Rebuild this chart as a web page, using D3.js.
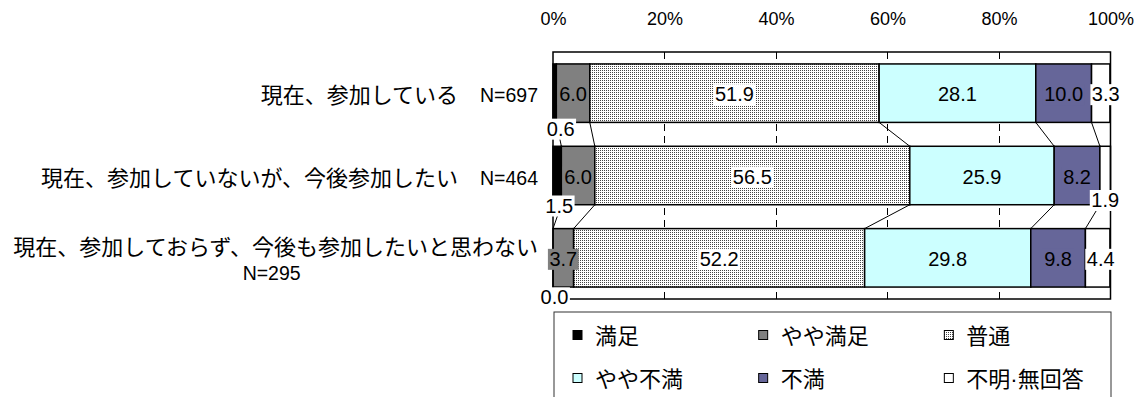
<!DOCTYPE html>
<html><head><meta charset="utf-8">
<script src="https://cdn.jsdelivr.net/npm/d3@7"></script>
<style>
html,body{margin:0;padding:0;background:#fff;}
svg{display:block;}
text{font-family:"Liberation Sans","Noto Sans CJK JP",sans-serif;fill:#000;}
</style></head>
<body>
<script>
// ---- data ----
const categories = [
  ["現在、参加している　N=697"],
  ["現在、参加していないが、今後参加したい　N=464"],
  ["現在、参加しておらず、今後も参加したいと思わない", "N=295"]
];
const seriesNames = ["満足", "やや満足", "普通", "やや不満", "不満", "不明·無回答"];
const satisfied            = [0.6, 1.5, 0.0];
const somewhatSatisfied    = [6.0, 6.0, 3.7];
const neutral              = [51.9, 56.5, 52.2];
const somewhatDissatisfied = [28.1, 25.9, 29.8];
const dissatisfied         = [10.0, 8.2, 9.8];
const unknown              = [3.3, 1.9, 4.4];
const tickValues = [0, 20, 40, 60, 80, 100];
const tickLabels = ["0%", "20%", "40%", "60%", "80%", "100%"];

const seriesValues = [satisfied, somewhatSatisfied, neutral, somewhatDissatisfied, dissatisfied, unknown];

// ---- styles / layout ----
const W = 1142, H = 397;
const plot = {left: 553, right: 1110.5, top: 52, bottom: 299};
const fills = ["#000000", "#808080", "url(#dots)", "#CCFFFF", "#666699", "#FFFFFF"];
const labelFills = ["#FFFFFF", "#808080", "#FFFFFF", "#CCFFFF", "#666699", "#FFFFFF"];
const labelNudges = {
  0: [[6, 34.5], [2, 29], [1.5, 38.5]],
  5: [[5, 0], [0, 23.5], [3, 0]]
};
const latinSize = 19.5, cjkSize = 22, numSize = 20;

const svg = d3.select("body").append("svg").attr("width", W).attr("height", H);
const defs = svg.append("defs");
const pat = defs.append("pattern").attr("id", "dots").attr("patternUnits", "userSpaceOnUse")
  .attr("width", 2).attr("height", 2);
pat.append("rect").attr("width", 2).attr("height", 2).attr("fill", "#fff");
pat.append("rect").attr("x", 0).attr("y", 0).attr("width", 1).attr("height", 1).attr("fill", "#444");

function mixedText(sel, str) {
  const parts = str.match(/[\x00-\x7F]+|[^\x00-\x7F]+/g);
  parts.forEach(p => {
    const latin = /^[\x00-\x7F]+$/.test(p);
    sel.append("tspan").attr("font-size", latin ? latinSize : cjkSize).text(p);
  });
  return sel;
}

const rows = categories.map((c, i) => {
  const r = {idx: i};
  seriesNames.forEach((s, j) => r[s] = seriesValues[j][i]);
  return r;
});
const stack = d3.stack().keys(seriesNames)(rows);

const x = d3.scaleLinear().domain([0, 100]).range([plot.left, plot.right]);
const y = d3.scaleBand().domain(d3.range(categories.length)).range([plot.top, plot.bottom])
  .paddingInner(0.29).paddingOuter(0.145);

// top axis labels
const xAxis = d3.axisTop(x).tickValues(tickValues).tickFormat((d, i) => tickLabels[i]).tickSize(0).tickPadding(0);
const ax = svg.append("g").attr("transform", "translate(0,25)").call(xAxis);
ax.select(".domain").remove();
ax.selectAll("text").attr("font-size", 18).attr("font-family", "Liberation Sans").attr("dy", 0).attr("fill", "#000");

// dashed gridlines
svg.append("g").selectAll("line").data(tickValues.slice(1, -1)).join("line")
  .attr("x1", d => x(d)).attr("x2", d => x(d))
  .attr("y1", plot.top).attr("y2", plot.bottom)
  .attr("stroke", "#000").attr("stroke-width", 1).attr("stroke-dasharray", "7,5")
  .attr("shape-rendering", "crispEdges");

// bars
const gBars = svg.append("g");
stack.forEach((layer, j) => {
  gBars.selectAll(null).data(layer).join("rect")
    .attr("x", d => x(d[0])).attr("y", (d, i) => y(i))
    .attr("width", d => Math.max(0, x(d[1]) - x(d[0])))
    .attr("height", y.bandwidth())
    .attr("fill", fills[j]).attr("stroke", "#000").attr("stroke-width", 1.5);
});

// series lines
const gSer = svg.append("g");
stack.slice(0, 5).forEach(layer => {
  for (let i = 0; i < layer.length - 1; i++) {
    gSer.append("line")
      .attr("x1", x(layer[i][1])).attr("y1", y(i) + y.bandwidth())
      .attr("x2", x(layer[i + 1][1])).attr("y2", y(i + 1))
      .attr("stroke", "#000").attr("stroke-width", 1);
  }
});

// plot border
svg.append("rect").attr("x", plot.left).attr("y", plot.top)
  .attr("width", plot.right - plot.left).attr("height", plot.bottom - plot.top)
  .attr("fill", "none").attr("stroke", "#000").attr("stroke-width", 1.5);

// data labels
const gLab = svg.append("g");
stack.forEach((layer, j) => {
  layer.forEach((d, i) => {
    const nud = labelNudges[j] ? labelNudges[j][i] : [0, 0];
    const cx = (x(d[0]) + x(d[1])) / 2 + nud[0];
    const cy = y(i) + y.bandwidth() / 2 + nud[1];
    const g = gLab.append("g");
    const t = g.append("text").attr("x", cx).attr("y", cy + 1)
      .attr("text-anchor", "middle").attr("dominant-baseline", "central")
      .attr("font-size", numSize).text(seriesValues[j][i].toFixed(1));
    const bb = t.node().getBBox();
    g.insert("rect", "text").attr("x", bb.x - 1.5).attr("y", bb.y + 1)
      .attr("width", bb.width + 3).attr("height", bb.height - 1)
      .attr("fill", labelFills[j]);
  });
});

// category labels
const gCat = svg.append("g");
categories.forEach((lines, i) => {
  const cy = y(i) + y.bandwidth() / 2;
  if (lines.length === 1) {
    mixedText(gCat.append("text").attr("x", 538).attr("y", cy + 2).attr("text-anchor", "end")
      .attr("dominant-baseline", "central"), lines[0]);
  } else {
    const t1 = mixedText(gCat.append("text").attr("x", 538).attr("y", cy - 11).attr("text-anchor", "end")
      .attr("dominant-baseline", "central"), lines[0]);
    const bb = t1.node().getBBox();
    mixedText(gCat.append("text").attr("x", bb.x + bb.width / 2 - 4).attr("y", cy + 15).attr("text-anchor", "middle")
      .attr("dominant-baseline", "central"), lines[1]);
  }
});

// legend
const lg = {x: 554, y: 312, w: 557, h: 100};
svg.append("rect").attr("x", lg.x).attr("y", lg.y).attr("width", lg.w).attr("height", lg.h)
  .attr("fill", "#fff").attr("stroke", "#333").attr("stroke-width", 1);
const colW = lg.w / 3;
seriesNames.forEach((s, j) => {
  const col = j % 3, row = Math.floor(j / 3);
  const sx = lg.x + 19 + col * colW;
  const sy = 335 + row * 43;
  svg.append("rect").attr("x", sx).attr("y", sy - 4.5).attr("width", 9).attr("height", 9)
    .attr("fill", fills[j]).attr("stroke", "#000").attr("stroke-width", 1);
  svg.append("text").attr("x", sx + 22).attr("y", sy + 1).attr("dominant-baseline", "central")
    .attr("font-size", cjkSize).text(s);
});
</script>
</body></html>
